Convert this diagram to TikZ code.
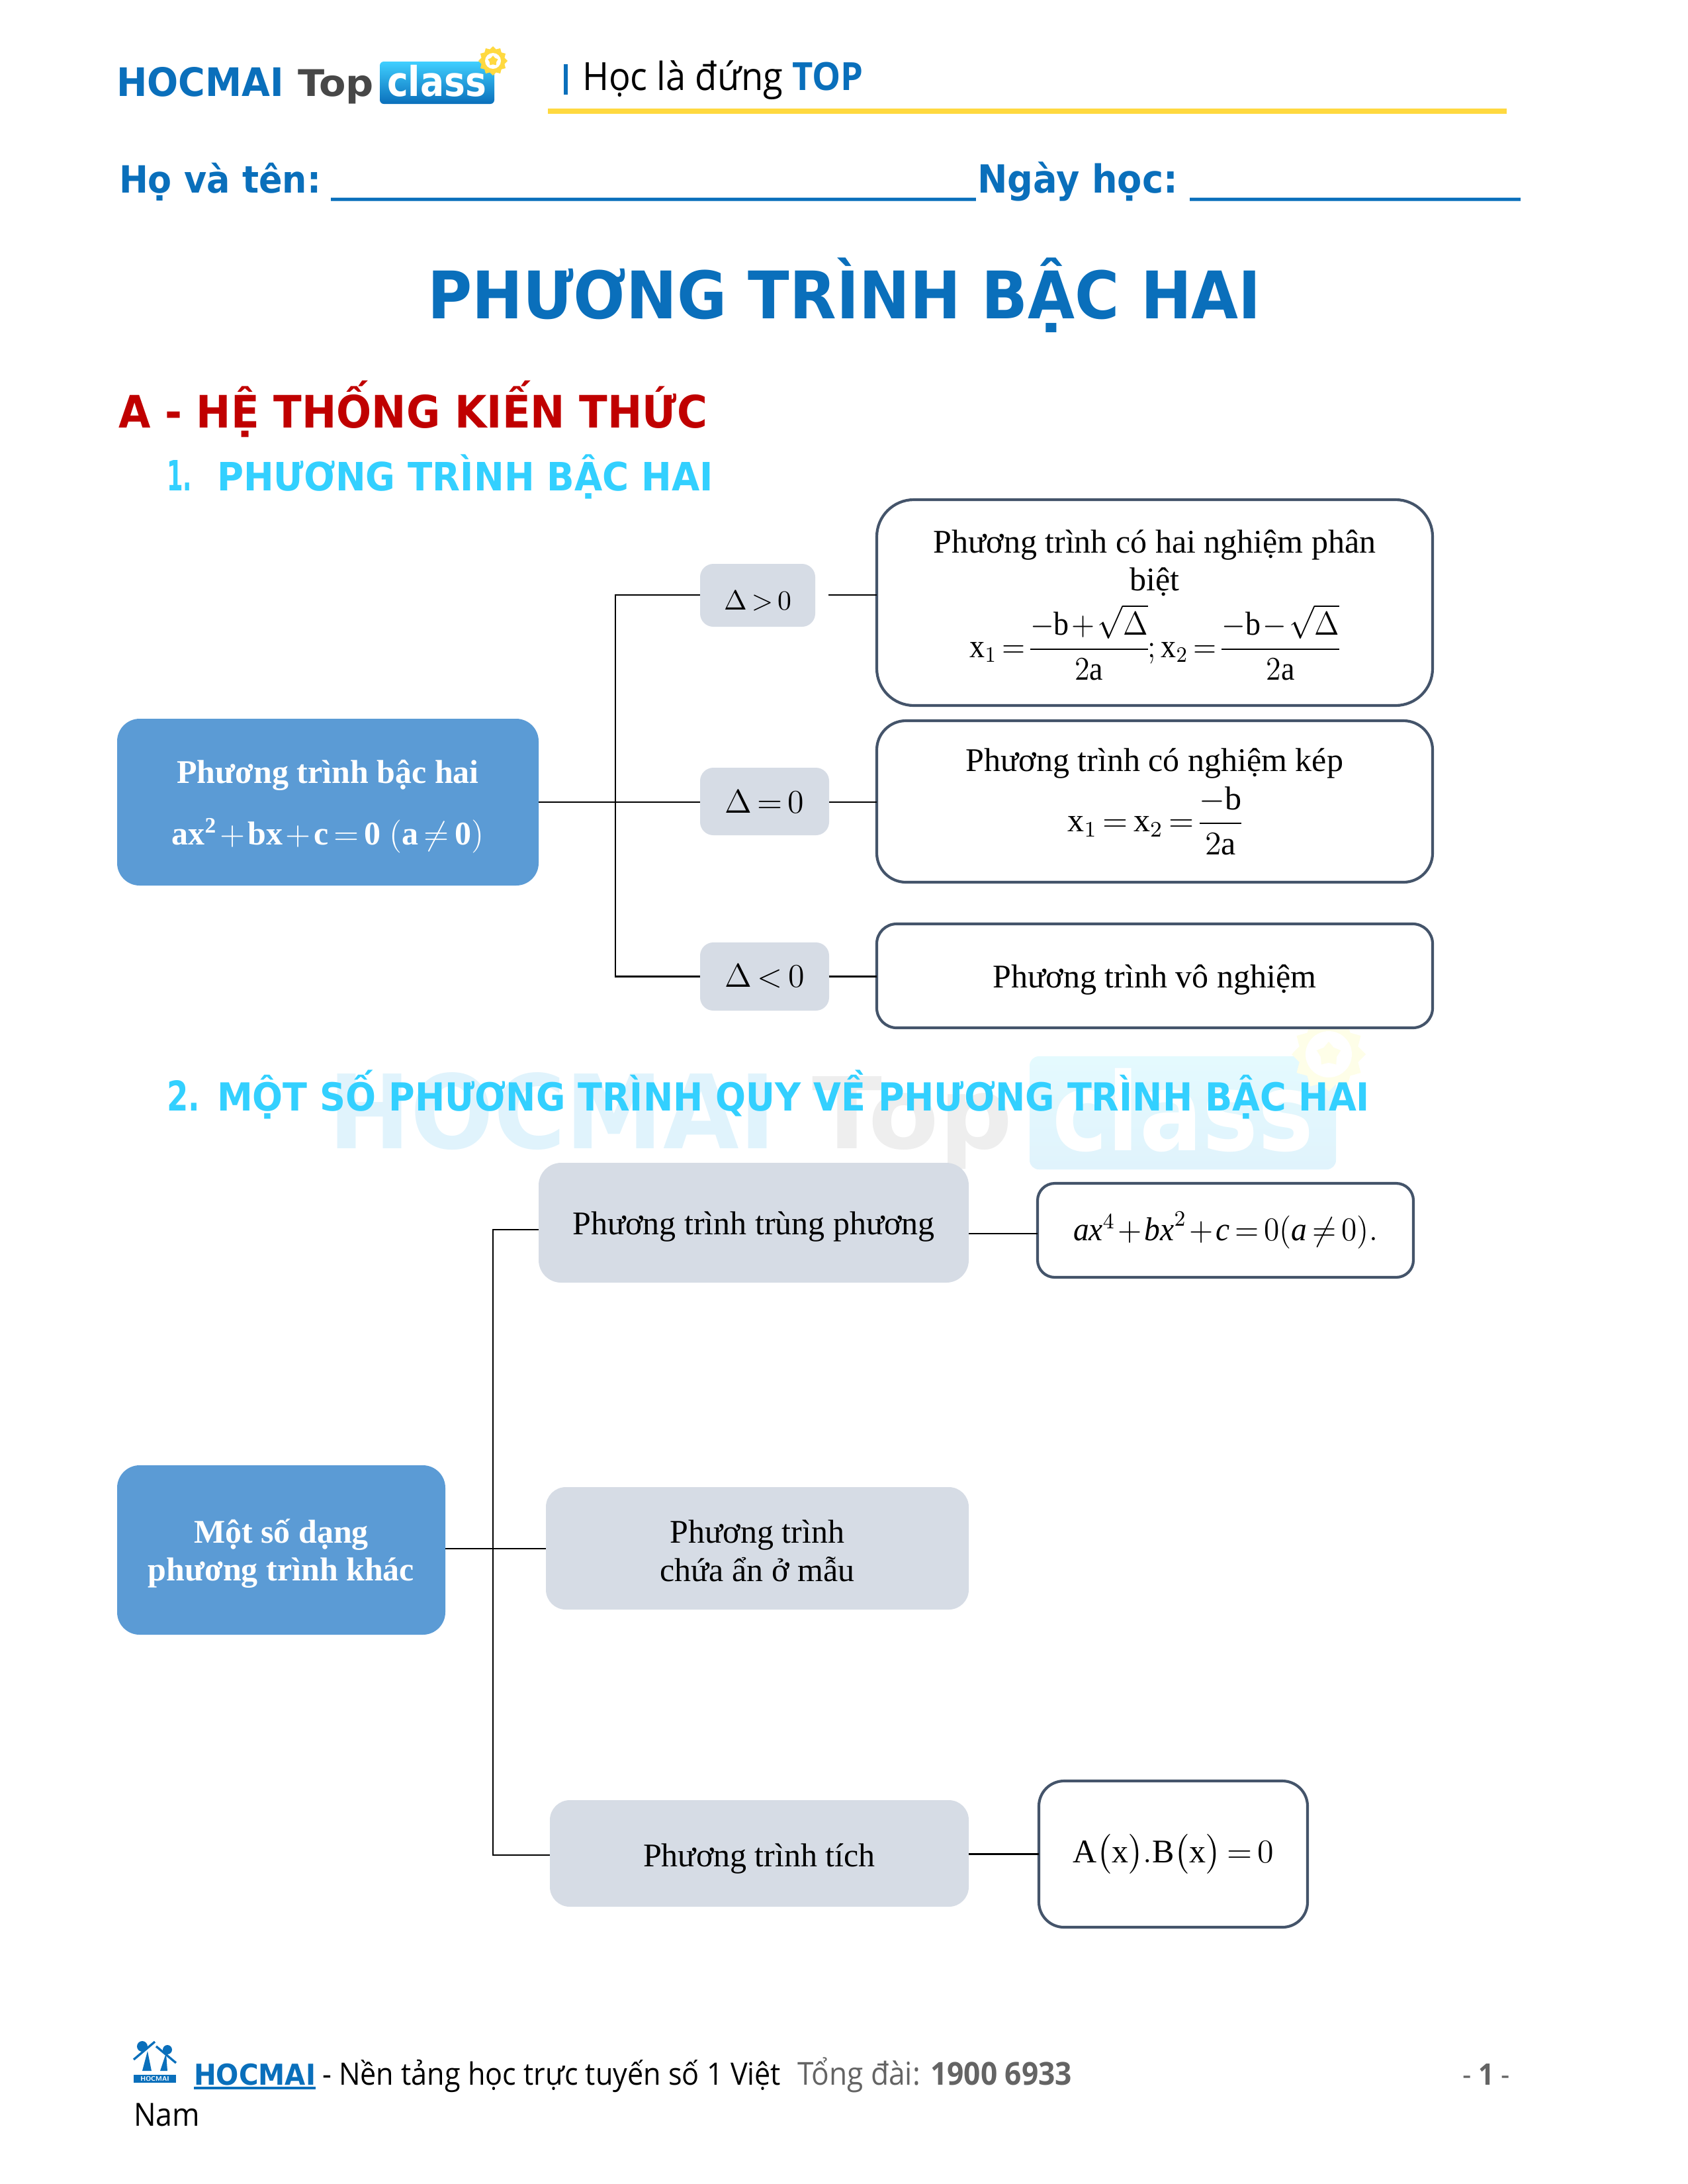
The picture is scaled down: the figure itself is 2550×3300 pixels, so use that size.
\documentclass[tikz,border=0pt]{standalone}
\usepackage{amsmath}
\usepackage{fontspec}
\usepackage{graphicx}
\setmainfont{Liberation Serif}
\newfontfamily\headfont{DejaVu Sans}
\newfontfamily\bodyfont{Open Sans}
\usetikzlibrary{positioning, shapes.geometric}
\definecolor{topblue}{RGB}{10, 111, 187}
\definecolor{sectred}{RGB}{192, 0, 0}
\definecolor{sectcyan}{RGB}{51, 208, 255}
\definecolor{goldline}{RGB}{255, 217, 64}
\definecolor{rootblue}{RGB}{91, 155, 213}
\definecolor{branchgray}{RGB}{214, 220, 229}
\definecolor{slateedge}{RGB}{68, 84, 106}
\definecolor{telgray}{RGB}{100, 100, 100}
\definecolor{wmblue}{RGB}{224, 243, 252}
\definecolor{wmgray}{RGB}{238, 238, 238}
\definecolor{wmcyan}{RGB}{228, 250, 254}
\definecolor{wmgold}{RGB}{254, 254, 232}
\newdimen\pxu
\pxu=0.24pt
\thickmuskip=3mu
\medmuskip=1.5mu
\nulldelimiterspace=0pt
\newcommand{\fitw}[2]{\scalebox{1}[1.08]{\resizebox{#1\pxu}{!}{#2}}}
\newcommand{\fitlogo}[2]{\scalebox{1}[1.16]{\resizebox{#1\pxu}{!}{#2}}}
\newcommand{\rmm}[1]{\mathrm{#1}}
\newcommand{\dn}[1]{\rule{0pt}{#1pt}}

\begin{document}
\begin{tikzpicture}[
  x=0.24pt, y=-0.24pt,
  every node/.style={inner sep=0pt, outer sep=0pt},
  txt/.style={anchor=base west},
  head/.style={anchor=base west, font=\headfont\bfseries},
  rootbox/.style={fill=rootblue, rounded corners=34\pxu, align=center, text=white,
                  font=\fontsize{12}{13.7}\selectfont\bfseries},
  grbox/.style={fill=branchgray, rounded corners=20\pxu, align=center,
                font=\fontsize{12}{13.7}\selectfont},
  resbox/.style={draw=slateedge, fill=white, line width=1pt, rounded corners=38\pxu, align=center,
                 font=\fontsize{12}{13.7}\selectfont},
  gearshape/.style={star, star points=12, star point ratio=1.22},
  conn/.style={line width=0.7pt, black}
]
  \useasboundingbox (0,0) rectangle (2550,3300);

  % watermark
  \node[head, text=wmblue] (wmhoc) at (496,1735) {\resizebox{676\pxu}{115\pxu}{HOCMAI}};
  \node[head, text=wmgray] (wmtop) at (1227,1735) {\resizebox*{303\pxu}{140\pxu}{Top}};
  \node[top color=wmcyan, bottom color=wmblue, rounded corners=14\pxu, minimum width=463\pxu, minimum height=171\pxu] (wmbox) at (1787.5,1681.5) {};
  \node[head, text=white] (wmcls) at (1590,1738) {\fitlogo{395}{class}};
  \node[gearshape, fill=wmgold, minimum size=112\pxu] (wmgear) at (2008,1593) {};
  \node[circle, fill=white, minimum size=70\pxu] (wmring) at (2008,1593) {};
  \node[star, fill=wmgold, minimum size=38\pxu] (wmstar) at (2008,1593) {};

  % header
  \node[head, text=topblue] (hoc) at (176,145) {\resizebox{253\pxu}{44\pxu}{HOCMAI}};
  \node[head, text=black!72] (top) at (450,145) {\resizebox*{115\pxu}{52\pxu}{Top}};
  \node[top color=cyan!75!blue!75, bottom color=topblue, rounded corners=6\pxu,
        minimum width=173\pxu, minimum height=64\pxu] (clsbox) at (660.5,125) {};
  \node[head, text=white] (cls) at (585,145) {\fitlogo{150}{class}};
  \node[gearshape, fill=goldline, minimum size=44\pxu] (gear) at (745,92) {};
  \node[circle, fill=white, minimum size=24\pxu] (gearin) at (745,92) {};
  \node[star, fill=goldline, minimum size=16\pxu] (gearstar) at (745,92) {};
  \node[fill=topblue, minimum width=6\pxu, minimum height=46\pxu] (bar) at (855,120) {};
  \node[txt] (slogan) at (880,136) {\fitw{425}{\bodyfont Học là đứng \textcolor{topblue}{\bfseries TOP}}};
  \draw[goldline, line width=1.7pt] (828,168) -- (2277,168);

  \node[head, text=topblue] (name) at (180,291) {\fitw{305}{Họ và tên:}};
  \node[head, text=topblue] (nameln) at (500,291) {\fitw{975}{\_\_\_\_\_\_\_\_\_\_\_\_\_\_\_\_\_\_\_\_\_\_\_\_\_\_\_\_\_\_\_\_\_\_\_\_\_\_\_}};
  \node[head, text=topblue] (date) at (1477,291) {\fitw{303}{Ngày học:}};
  \node[head, text=topblue] (dateln) at (1798,291) {\fitw{500}{\_\_\_\_\_\_\_\_\_\_\_\_\_\_\_\_\_\_\_\_}};

  \node[head, text=topblue] (title) at (646,481) {\fitw{1260}{PHƯƠNG TRÌNH BẬC HAI}};
  \node[head, text=sectred] (secA) at (179,646) {\fitw{890}{A - HỆ THỐNG KIẾN THỨC}};
  \node[head, text=sectcyan] (sec1n) at (252,741) {\resizebox{38\pxu}{46\pxu}{1.}};
  \node[head, text=sectcyan] (sec1) at (328,741) {\fitw{750}{PHƯƠNG TRÌNH BẬC HAI}};
  \node[head, text=sectcyan] (sec2n) at (252,1678) {\resizebox{50\pxu}{46\pxu}{2.}};
  \node[head, text=sectcyan] (sec2) at (328,1678) {\fitw{1742}{MỘT SỐ PHƯƠNG TRÌNH QUY VỀ PHƯƠNG TRÌNH BẬC HAI}};

  % first tree
  \node[rootbox, minimum width=637\pxu, minimum height=252\pxu] (quad) at (495.5,1212)
    {\dn{11.6}Phương trình bậc hai\\[8.5pt] $\mathbf{ax}^{\mathbf{2}}+\mathbf{bx}+\mathbf{c}=\mathbf{0}\ (\mathbf{a}\neq \mathbf{0})$};
  \node[grbox, minimum width=174\pxu, minimum height=95\pxu, font=\fontsize{10}{12}\selectfont] (gt) at (1145,899.5) {\dn{11}$\Delta>0$};
  \node[grbox, minimum width=195\pxu, minimum height=102\pxu] (eq) at (1155.5,1211) {$\Delta=0$};
  \node[grbox, minimum width=195\pxu, minimum height=103\pxu] (lt) at (1155.5,1475.5) {$\Delta<0$};
  \node[resbox, rounded corners=56\pxu, minimum width=840\pxu, minimum height=311\pxu] (two) at (1745,910.5)
    {\dn{10.2}Phương trình có hai nghiệm phân\\biệt\\[2pt]
     \scalebox{.92}[1]{$\rmm{x}_1=\dfrac{-\rmm{b}+\sqrt{\Delta}}{2\rmm{a}};\rmm{x}_2=\dfrac{-\rmm{b}-\sqrt{\Delta}}{2\rmm{a}}$}};
  \node[resbox, rounded corners=44\pxu, minimum width=840\pxu, minimum height=244\pxu] (dbl) at (1745,1211)
    {Phương trình có nghiệm kép\\[2pt]
     $\rmm{x}_1=\rmm{x}_2=\dfrac{-\rmm{b}}{2\rmm{a}}$};
  \node[resbox, rounded corners=30\pxu, minimum width=840\pxu, minimum height=157\pxu] (none) at (1745,1474.5)
    {\dn{11.2}Phương trình vô nghiệm};

  \coordinate (hubA) at (930,1212);
  \coordinate (gtend) at (1252,899);
  \draw[conn] (quad.east |- hubA) -- (eq.west |- hubA);
  \draw[conn] (gt.west |- gtend) -| (hubA) |- (lt.west);
  \draw[conn] (gtend) -- (two.west |- gtend);
  \draw[conn] (eq.east |- hubA) -- (dbl.west |- hubA);
  \draw[conn] (lt.east) -- (none.west |- lt.east);

  % second tree
  \node[rootbox, minimum width=496\pxu, minimum height=256\pxu] (other) at (425,2342)
    {\dn{11.2}Một số dạng\\phương trình khác};
  \node[grbox, rounded corners=34\pxu, minimum width=650\pxu, minimum height=181\pxu] (biq) at (1139,1847.5)
    {\dn{11.2}Phương trình trùng phương};
  \node[grbox, rounded corners=30\pxu, minimum width=639\pxu, minimum height=185\pxu] (frac) at (1144.5,2339.5)
    {\dn{10.2}Phương trình\\chứa ẩn ở mẫu};
  \node[grbox, rounded corners=30\pxu, minimum width=633\pxu, minimum height=161\pxu] (prod) at (1147.5,2800.5)
    {\dn{12.2}Phương trình tích};
  \node[resbox, rounded corners=26\pxu, minimum width=568\pxu, minimum height=142\pxu] (biqf) at (1852,1859)
    {\scalebox{.95}[1]{$\mathit{ax}^4+\mathit{bx}^2+\mathit{c}=0(\mathit{a}\neq 0).$}};
  \node[resbox, rounded corners=38\pxu, minimum width=406\pxu, minimum height=221\pxu] (prodf) at (1773,2801.5)
    {$\rmm{A}\bigl(\rmm{x}\bigr).\rmm{B}\bigl(\rmm{x}\bigr)=0$};

  \coordinate (hubBt) at (745,1858);
  \coordinate (hubBm) at (745,2340);
  \coordinate (hubBb) at (745,2803);
  \coordinate (biqr) at (1464,1864);
  \draw[conn] (biq.west |- hubBt) -- (hubBt) -- (hubBb) -- (prod.west |- hubBb);
  \draw[conn] (other.east |- hubBm) -- (frac.west |- hubBm);
  \draw[conn] (biqr) -- (biqf.west |- biqr);
  \draw[conn] (prod.east |- prodf) -- (prodf.west);

  % footer
  \fill[topblue] (202,3135) rectangle (266,3147);
  \node[text=white, font=\sffamily\bfseries\fontsize{2.4}{3}\selectfont] (ftlogo) at (234,3141) {HOCMAI};
  \fill[topblue] (215,3092) circle (8);
  \fill[topblue] (253,3097) circle (7);
  \fill[topblue] (223,3099) -- (215,3129) -- (229,3129) -- cycle;
  \fill[topblue] (251,3102) -- (242,3129) -- (253,3129) -- cycle;
  \draw[topblue, line width=0.8pt] (202,3112) -- (234,3085);
  \draw[topblue, line width=0.8pt] (236,3092) -- (266,3117);
  \node[head, text=topblue] (fthoc) at (293,3150) {\fitw{184}{HOCMAI}};
  \draw[topblue, line width=0.8pt] (293,3155) -- (477,3155);
  \node[txt] (fttag) at (487,3150) {\fitw{693}{\bodyfont - Nền tảng học trực tuyến số 1 Việt}};
  \node[txt, text=telgray] (fttel) at (1205,3150) {\fitw{415}{\bodyfont Tổng đài: {\bfseries 1900 6933}}};
  \node[txt, text=telgray] (ftpage) at (2210,3150) {\fitw{72}{\bodyfont - {\bfseries 1} -}};
  \node[txt] (ftnam) at (202,3212) {\fitw{100}{\bodyfont Nam}};
\end{tikzpicture}
\end{document}
